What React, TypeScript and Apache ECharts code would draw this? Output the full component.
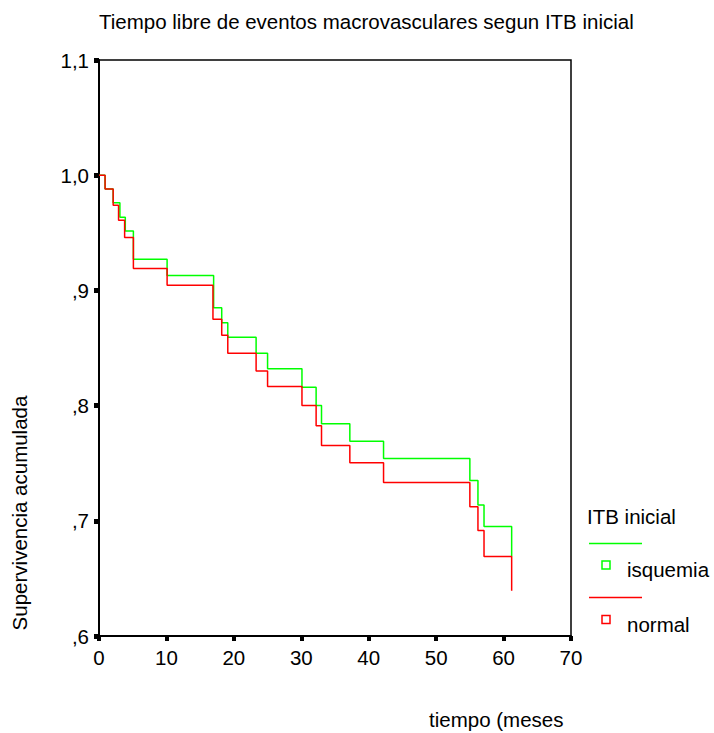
import React, { useEffect, useRef } from 'react';
import * as echarts from 'echarts';

const FONT = '"Liberation Sans", Arial, Helvetica, sans-serif';

const titleText = 'Tiempo libre de eventos macrovasculares segun ITB inicial';
const xAxisName = 'tiempo (meses';
const yAxisName = 'Supervivencia acumulada';
const legendTitle = 'ITB inicial';
const seriesNames = ['isquemia', 'normal'];
const seriesColors = ['#00ff00', '#ff0000'];

// Kaplan-Meier step points (time in months, cumulative survival)
const timesIsquemia = [0, 0.9, 2.1, 3.1, 3.9, 5.1, 10.1, 17.0, 18.2, 19.1, 23.3, 25.0, 30.1, 32.2, 33.0, 37.2, 42.2, 55.0, 56.2, 57.1, 61.2];
const survIsquemia = [1.0, 0.988, 0.976, 0.9635, 0.9516, 0.927, 0.913, 0.885, 0.872, 0.8594, 0.8455, 0.832, 0.816, 0.8, 0.7843, 0.769, 0.754, 0.735, 0.7137, 0.695, 0.669];

const timesNormal = [0, 0.9, 2.1, 2.9, 3.8, 5.1, 10.1, 16.9, 18.2, 19.1, 23.3, 25.0, 30.1, 32.2, 33.0, 37.2, 42.2, 55.0, 56.2, 57.1, 61.2];
const survNormal = [1.0, 0.988, 0.974, 0.961, 0.946, 0.919, 0.9045, 0.875, 0.861, 0.8455, 0.83, 0.8166, 0.8, 0.7826, 0.7653, 0.7503, 0.7333, 0.7122, 0.6916, 0.669, 0.6392];

const xMin = 0, xMax = 70, xInterval = 10;
const yMin = 0.6, yMax = 1.1, yInterval = 0.1;

const fmtY = (v: number) => v.toFixed(1).replace('.', ',').replace(/^0/, '');

export default function App() {
  const ref = useRef<HTMLDivElement>(null);
  useEffect(() => {
    const chart = echarts.init(ref.current!, null, { renderer: 'svg' });
    const pairs = (t: number[], s: number[]) => t.map((x, i) => [x, s[i]]);
    const fs = 20.5;
    chart.setOption({
      animation: false,
      backgroundColor: '#ffffff',
      title: {
        text: titleText,
        left: 99,
        top: 10.5,
        padding: 0,
        textStyle: { fontSize: fs, fontWeight: 'normal', color: '#000', fontFamily: FONT },
      },
      grid: {
        left: 99,
        right: 143,
        top: 60,
        bottom: 97,
        show: true,
        borderColor: '#000',
        borderWidth: 1.5,
        backgroundColor: 'transparent',
      },
      xAxis: {
        type: 'value',
        min: xMin,
        max: xMax,
        interval: xInterval,
        splitLine: { show: false },
        axisLine: { show: true, lineStyle: { color: '#000', width: 2 } },
        axisTick: { show: true, length: 5, lineStyle: { color: '#000', width: 4 } },
        axisLabel: { color: '#000', fontSize: fs, fontFamily: FONT, margin: 11, showMinLabel: true, showMaxLabel: true },
      },
      yAxis: {
        type: 'value',
        min: yMin,
        max: yMax,
        interval: yInterval,
        splitLine: { show: false },
        axisLine: { show: true, lineStyle: { color: '#000', width: 2 } },
        axisTick: { show: true, length: 5, lineStyle: { color: '#000', width: 5 } },
        axisLabel: { color: '#000', fontSize: fs, fontFamily: FONT, margin: 10, formatter: fmtY, showMinLabel: true, showMaxLabel: true },
      },
      series: [
        {
          name: seriesNames[0],
          type: 'line',
          step: 'end',
          symbol: 'none',
          data: pairs(timesIsquemia, survIsquemia),
          lineStyle: { color: seriesColors[0], width: 1.5 },
          itemStyle: { color: seriesColors[0] },
          z: 2,
        },
        {
          name: seriesNames[1],
          type: 'line',
          step: 'end',
          symbol: 'none',
          data: pairs(timesNormal, survNormal),
          lineStyle: { color: seriesColors[1], width: 1.5 },
          itemStyle: { color: seriesColors[1] },
          z: 3,
        },
      ],
      graphic: [
        {
          type: 'text', x: 429, y: 719.5,
          style: { text: xAxisName, fontSize: fs, fontFamily: FONT, fill: '#000', align: 'left', verticalAlign: 'middle' },
        },
        {
          type: 'text', x: 19.6, y: 513, rotation: Math.PI / 2,
          style: { text: yAxisName, fontSize: fs, fontFamily: FONT, fill: '#000', align: 'center', verticalAlign: 'middle' },
        },
        {
          type: 'text', x: 587, y: 516,
          style: { text: legendTitle, fontSize: fs, fontFamily: FONT, fill: '#000', align: 'left', verticalAlign: 'middle' },
        },
        {
          type: 'line', shape: { x1: 589, y1: 543.5, x2: 642, y2: 543.5 },
          style: { stroke: seriesColors[0], lineWidth: 1.5 },
        },
        {
          type: 'rect', shape: { x: 602, y: 561, width: 8, height: 8 },
          style: { stroke: seriesColors[0], lineWidth: 1.5, fill: 'none' },
        },
        {
          type: 'text', x: 627, y: 569,
          style: { text: seriesNames[0], fontSize: fs, fontFamily: FONT, fill: '#000', align: 'left', verticalAlign: 'middle' },
        },
        {
          type: 'line', shape: { x1: 589, y1: 597.5, x2: 642, y2: 597.5 },
          style: { stroke: seriesColors[1], lineWidth: 1.5 },
        },
        {
          type: 'rect', shape: { x: 602, y: 615.5, width: 8, height: 8 },
          style: { stroke: seriesColors[1], lineWidth: 1.5, fill: 'none' },
        },
        {
          type: 'text', x: 627, y: 624,
          style: { text: seriesNames[1], fontSize: fs, fontFamily: FONT, fill: '#000', align: 'left', verticalAlign: 'middle' },
        },
      ],
    });
    return () => chart.dispose();
  }, []);
  return (
    <div
      ref={ref}
      style={{ position: 'fixed', left: 0, top: 0, width: 714, height: 733, background: '#fff' }}
    />
  );
}
